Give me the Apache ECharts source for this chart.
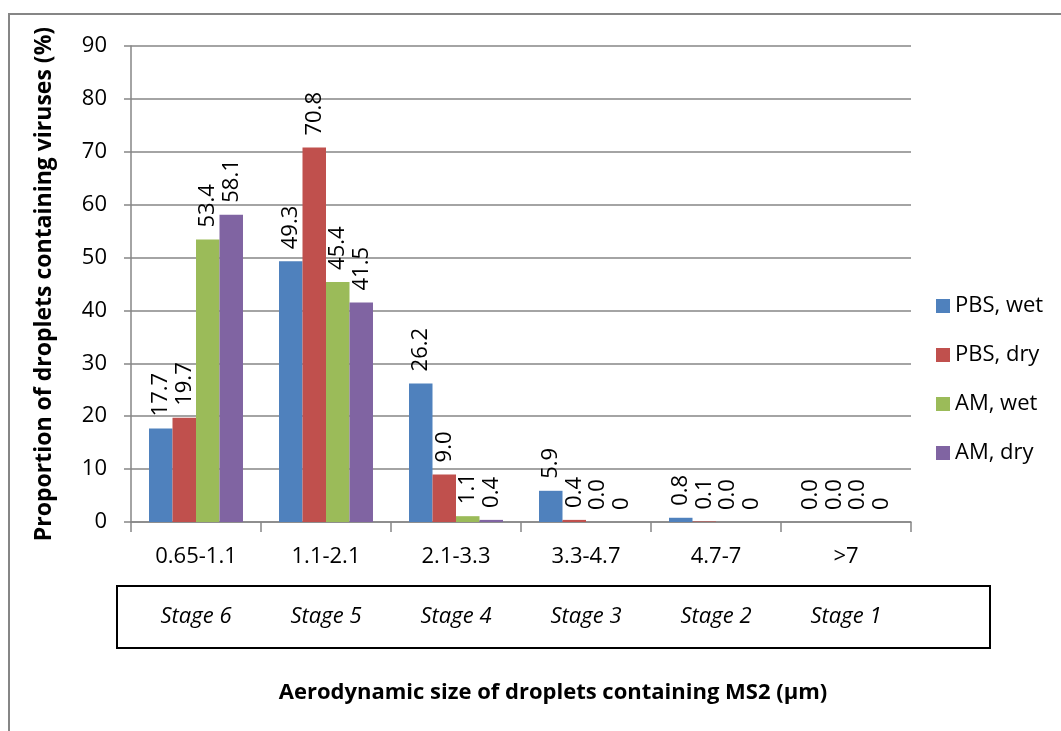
<!DOCTYPE html>
<html><head><meta charset="utf-8">
<script src="https://cdn.jsdelivr.net/npm/echarts@6/dist/echarts.min.js"></script>
<style>html,body{margin:0;padding:0;background:#fff}#c{width:1061px;height:731px}</style>
</head><body><div id="c"></div>
<script>
const categories = ['0.65-1.1', '1.1-2.1', '2.1-3.3', '3.3-4.7', '4.7-7', '>7'];
const stages = ['Stage 6', 'Stage 5', 'Stage 4', 'Stage 3', 'Stage 2', 'Stage 1'];
const seriesNames = ['PBS, wet', 'PBS, dry', 'AM, wet', 'AM, dry'];
const pbsWet = [17.7, 49.3, 26.2, 5.9, 0.8, 0.0];
const pbsDry = [19.7, 70.8, 9.0, 0.4, 0.1, 0.0];
const amWet = [53.4, 45.4, 1.1, 0.0, 0.0, 0.0];
const amDry = [58.1, 41.5, 0.4, 0, 0, 0];
const pbsWetLabels = ['17.7', '49.3', '26.2', '5.9', '0.8', '0.0'];
const pbsDryLabels = ['19.7', '70.8', '9.0', '0.4', '0.1', '0.0'];
const amWetLabels = ['53.4', '45.4', '1.1', '0.0', '0.0', '0.0'];
const amDryLabels = ['58.1', '41.5', '0.4', '0', '0', '0'];
const colors = ['#4F81BD', '#C0504D', '#9BBB59', '#8064A2'];
const yTicks = [0, 10, 20, 30, 40, 50, 60, 70, 80, 90];
const xTitle = 'Aerodynamic size of droplets containing MS2 (µm)';
const yTitle = 'Proportion of droplets containing viruses (%)';

const FONT = '"Open Sans", "Noto Sans", sans-serif';
const values = [pbsWet, pbsDry, amWet, amDry];
const labels = [pbsWetLabels, pbsDryLabels, amWetLabels, amDryLabels];

const chart = echarts.init(document.getElementById('c'));
chart.setOption({
  animation: false,
  backgroundColor: '#fff',
  textStyle: { fontFamily: FONT },
  grid: { left: 131, right: 150, top: 46, bottom: 209, containLabel: false },
  legend: {
    orient: 'vertical', left: 931, top: 290,
    itemWidth: 14, itemHeight: 14, itemGap: 27,
    icon: 'rect',
    textStyle: { fontFamily: FONT, fontSize: 22, color: '#000', lineHeight: 22 },
    data: seriesNames
  },
  xAxis: {
    type: 'category', data: categories,
    axisLine: { lineStyle: { color: '#868686', width: 1.5 } },
    axisTick: { show: true, length: 10, interval: 0, lineStyle: { color: '#868686', width: 1.5 } },
    axisLabel: {
      interval: 0, margin: 20, color: '#000',
      formatter: function (v, i) { return '{a|' + v + '}\n{b|' + stages[i] + '}'; },
      rich: {
        a: { fontFamily: FONT, fontSize: 22, lineHeight: 30, color: '#000' },
        b: { fontFamily: FONT, fontSize: 22, fontStyle: 'italic', lineHeight: 90, color: '#000' }
      }
    }
  },
  yAxis: {
    type: 'value', min: 0, max: 90, interval: 10,
    axisLine: { show: true, lineStyle: { color: '#868686', width: 1.5 } },
    axisTick: { show: true, length: 7, lineStyle: { color: '#868686', width: 1.5 } },
    splitLine: { lineStyle: { color: '#868686', width: 1.5 } },
    axisLabel: {
      margin: 24, color: '#000', fontFamily: FONT, fontSize: 22,
      formatter: function (v) { return yTicks.indexOf(v) >= 0 ? String(v) : ''; }
    },
    name: yTitle,
    nameLocation: 'middle', nameGap: 75, nameRotate: 90,
    nameTextStyle: { fontFamily: FONT, fontSize: 23, fontWeight: 'bold', color: '#000' }
  },
  series: seriesNames.map(function (n, s) {
    return {
      name: n, type: 'bar', data: values[s],
      barGap: '0%', barCategoryGap: '27.7%',
      itemStyle: { color: colors[s] },
      label: {
        show: true, position: 'top', rotate: 90, distance: 12,
        align: 'left', verticalAlign: 'middle',
        fontFamily: FONT, fontSize: 22, color: '#000',
        formatter: function (p) { return labels[s][p.dataIndex]; }
      }
    };
  }),
  graphic: [
    { type: 'rect', shape: { x: 9, y: 14, width: 1100, height: 800 },
      style: { fill: 'none', stroke: '#868686', lineWidth: 2 }, silent: true, z: -1 },
    { type: 'rect', shape: { x: 117, y: 586, width: 873, height: 62 },
      style: { fill: 'none', stroke: '#000', lineWidth: 2 }, silent: true },
    { type: 'text', x: 553, y: 693, silent: true,
      style: { text: xTitle, fontFamily: FONT, fontSize: 22, fontWeight: 'bold', fill: '#000',
               align: 'center', verticalAlign: 'middle' } }
  ]
});
</script></body></html>
